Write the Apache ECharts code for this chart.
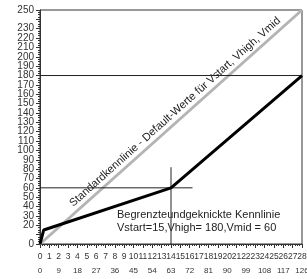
<!DOCTYPE html>
<html>
<head>
<meta charset="utf-8">
<script src="https://cdn.jsdelivr.net/npm/echarts@6/dist/echarts.min.js"></script>
<style>
  html, body { margin: 0; padding: 0; background: #fff; }
  #chart { width: 307px; height: 279px; }
</style>
</head>
<body>
<div id="chart"></div>
<script>
// curves (x on the 0..28 scale, y in 0..250)
const stdCurve = [[0, 0], [28, 250]];
const kinkCurve = [[0, 0], [0.4, 15], [14, 60], [28, 180]];
const vhighLine = [[0, 180], [28, 180]];
const vmidLine = [[0, 60], [16.3, 60]];
const kneeLine = [[14, 0], [14, 82]];

const stdLabel = 'Standardkennlinie - Default-Werte für Vstart, Vhigh, Vmid';
const kinkLabel = ['Begrenzteundgeknickte Kennlinie', 'Vstart=15,Vhigh= 180,Vmid = 60'];

const font = 'Liberation Sans';
const chart = echarts.init(document.getElementById('chart'));

function thin(data) {
  return {
    type: 'line', data: data, symbol: 'none', silent: true,
    lineStyle: { color: '#222', width: 1 }
  };
}

const option = {
  animation: false,
  grid: { left: 40, right: 5, top: 10, bottom: 35, show: true, borderColor: '#333', borderWidth: 1, outerBoundsMode: 'none' },
  xAxis: [
    {
      type: 'value', min: 0, max: 28, interval: 1, position: 'bottom',
      axisLine: { lineStyle: { color: '#333' } },
      axisTick: { length: 4, lineStyle: { color: '#333' } },
      minorTick: { show: true, splitNumber: 4, length: 2, lineStyle: { color: '#333' } },
      splitLine: { show: false },
      axisLabel: { fontFamily: font, fontSize: 8.5, color: '#333', margin: 8, showMaxLabel: true, hideOverlap: false }
    },
    {
      type: 'value', min: 0, max: 126, interval: 9, position: 'bottom', offset: 15,
      axisLine: { show: false }, axisTick: { show: false }, splitLine: { show: false },
      axisLabel: { fontFamily: font, fontSize: 8, color: '#333', margin: 8, showMaxLabel: true, hideOverlap: false }
    }
  ],
  yAxis: {
    type: 'value', min: 0, max: 250, interval: 10,
    axisLine: { show: true, lineStyle: { color: '#333' } },
    axisTick: { show: true, length: 4, lineStyle: { color: '#333' } },
    minorTick: { show: true, splitNumber: 4, length: 2, lineStyle: { color: '#333' } },
    splitLine: { show: false },
    axisLabel: {
      color: '#333', margin: 6, showMaxLabel: true, showMinLabel: true, hideOverlap: false,
      formatter: '{a|{value}}',
      rich: { a: { fontFamily: font, fontSize: 10, height: 7, lineHeight: 7, color: '#333' } }
    }
  },
  series: [
    {
      type: 'line', data: stdCurve, symbol: 'none', silent: true,
      lineStyle: { color: '#b4b4b4', width: 3 }
    },
    thin(vhighLine),
    thin(vmidLine),
    thin(kneeLine),
    {
      type: 'line', data: kinkCurve, symbol: 'none', silent: true,
      lineStyle: { color: '#000', width: 3 }
    }
  ]
};
chart.setOption(option);

// label running along the grey standard line
const p0 = chart.convertToPixel({ gridIndex: 0 }, stdCurve[0]);
const p1 = chart.convertToPixel({ gridIndex: 0 }, stdCurve[1]);
const angle = Math.atan2(p0[1] - p1[1], p1[0] - p0[0]);
chart.setOption({
  graphic: [
    {
      id: 'kink', type: 'text', left: 117, top: 208,
      style: { text: kinkLabel.join('\n'), font: '11px ' + font, fill: '#222', lineHeight: 13 }
    },
    {
      id: 'std', type: 'text', x: (p0[0] + p1[0]) / 2, y: (p0[1] + p1[1]) / 2, rotation: angle,
      style: { x: 13, y: -3, text: stdLabel, font: '11px ' + font, fill: '#222', align: 'center', verticalAlign: 'bottom' }
    }
  ]
});
</script>
</body>
</html>
